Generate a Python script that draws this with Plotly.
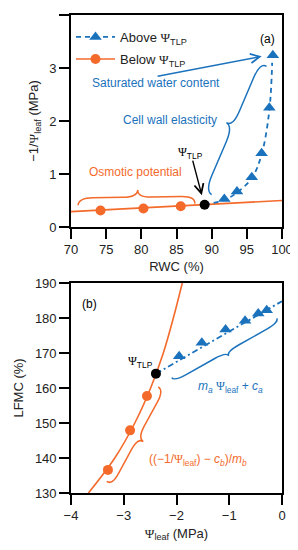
import plotly.graph_objects as go

# ---------------- data ----------------
# panel (a): -1/Psi_leaf vs RWC
rwc_below = [74.2, 80.3, 85.6]
inv_below = [0.31, 0.35, 0.39]
rwc_below_line = [70, 100]
inv_below_line = [0.29, 0.50]

rwc_above = [91.8, 93.6, 95.7, 97.1, 98.2, 98.7]
inv_above = [0.53, 0.67, 0.94, 1.39, 2.25, 3.24]
rwc_above_line = [89.0, 91.8, 93.6, 95.7, 97.1, 98.2, 98.6]
inv_above_line = [0.42, 0.51, 0.65, 0.92, 1.37, 2.20, 3.10]

rwc_tlp = [89.0]
inv_tlp = [0.42]

# panel (b): LFMC vs Psi_leaf
psi_below = [-3.30, -2.88, -2.56]
lfmc_below = [136.6, 147.9, 157.7]
psi_below_line = [-3.67, -3.17, -2.79, -2.49, -2.25, -2.06, -1.89]
lfmc_below_line = [130, 140, 150, 160, 170, 180, 190]

psi_above = [-1.95, -1.52, -1.07, -0.70, -0.45, -0.29]
lfmc_above = [169.1, 172.9, 176.7, 179.2, 181.3, 182.2]
psi_above_line = [-2.39, 0.0]
lfmc_above_line = [164.1, 184.8]

psi_tlp = [-2.39]
lfmc_tlp = [164.1]

BLUE = "#1a72bd"
ORANGE = "#f46a2b"
FONT = "Liberation Sans, Arial, sans-serif"
PSI = "<span style='font-family:Liberation Serif, DejaVu Serif, serif'>Ψ</span>"

fig = go.Figure()

# ---- panel (a) ----
fig.add_trace(go.Scatter(x=rwc_below_line, y=inv_below_line, mode="lines",
                         line=dict(color=ORANGE, width=1.6), showlegend=False,
                         xaxis="x", yaxis="y"))
fig.add_trace(go.Scatter(x=rwc_below, y=inv_below, mode="markers",
                         marker=dict(color=ORANGE, size=10, symbol="circle"),
                         showlegend=False, xaxis="x", yaxis="y"))
fig.add_trace(go.Scatter(x=rwc_above_line, y=inv_above_line, mode="lines",
                         line=dict(color=BLUE, width=1.8, dash="5px,4px", shape="spline"),
                         showlegend=False, xaxis="x", yaxis="y"))
fig.add_trace(go.Scatter(x=rwc_above, y=inv_above, mode="markers",
                         marker=dict(color=BLUE, size=11, symbol="triangle-up"),
                         showlegend=False, xaxis="x", yaxis="y"))
fig.add_trace(go.Scatter(x=rwc_tlp, y=inv_tlp, mode="markers",
                         marker=dict(color="black", size=10),
                         showlegend=False, xaxis="x", yaxis="y"))

# legend entries
fig.add_trace(go.Scatter(x=[None], y=[None], mode="lines+markers",
                         name=f"Above {PSI}<sub>TLP</sub>",
                         line=dict(color=BLUE, width=1.8, dash="5px,4px"),
                         marker=dict(color=BLUE, size=11, symbol="triangle-up"),
                         legend="legend", xaxis="x", yaxis="y"))
fig.add_trace(go.Scatter(x=[None], y=[None], mode="lines+markers",
                         name=f"Below {PSI}<sub>TLP</sub>",
                         line=dict(color=ORANGE, width=1.6),
                         marker=dict(color=ORANGE, size=10, symbol="circle"),
                         legend="legend2", xaxis="x", yaxis="y"))

# ---- panel (b) ----
fig.add_trace(go.Scatter(x=psi_below_line, y=lfmc_below_line, mode="lines",
                         line=dict(color=ORANGE, width=1.6, shape="spline"),
                         showlegend=False, xaxis="x2", yaxis="y2"))
fig.add_trace(go.Scatter(x=psi_below, y=lfmc_below, mode="markers",
                         marker=dict(color=ORANGE, size=10, symbol="circle"),
                         showlegend=False, xaxis="x2", yaxis="y2"))
fig.add_trace(go.Scatter(x=psi_above_line, y=lfmc_above_line, mode="lines",
                         line=dict(color=BLUE, width=1.8, dash="6px,3px,2px,3px"),
                         showlegend=False, xaxis="x2", yaxis="y2"))
fig.add_trace(go.Scatter(x=psi_above, y=lfmc_above, mode="markers",
                         marker=dict(color=BLUE, size=11, symbol="triangle-up"),
                         showlegend=False, xaxis="x2", yaxis="y2"))
fig.add_trace(go.Scatter(x=psi_tlp, y=lfmc_tlp, mode="markers",
                         marker=dict(color="black", size=10),
                         showlegend=False, xaxis="x2", yaxis="y2"))


def brace(a, b, t, xref, yref, color):
    """Curly brace between a and b with its tip at t (data coords)."""
    mx, my = (a[0] + b[0]) / 2, (a[1] + b[1]) / 2
    dx, dy = (t[0] - mx) / 2, (t[1] - my) / 2
    ux, uy = b[0] - a[0], b[1] - a[1]
    f = 0.12
    p = lambda x, y: f"{x},{y}"
    path = (
        f"M {p(a[0], a[1])} "
        f"Q {p(a[0] + dx, a[1] + dy)} {p(a[0] + f*ux + dx, a[1] + f*uy + dy)} "
        f"L {p(mx - f*ux + dx, my - f*uy + dy)} "
        f"Q {p(mx + dx, my + dy)} {p(t[0], t[1])} "
        f"Q {p(mx + dx, my + dy)} {p(mx + f*ux + dx, my + f*uy + dy)} "
        f"L {p(b[0] - f*ux + dx, b[1] - f*uy + dy)} "
        f"Q {p(b[0] + dx, b[1] + dy)} {p(b[0], b[1])}"
    )
    return dict(type="path", path=path, xref=xref, yref=yref,
                line=dict(color=color, width=1.5))


shapes = [
    brace((71.0, 0.41), (87.6, 0.44), (79.5, 0.70), "x", "y", ORANGE),
    brace((97.8, 3.03), (90.0, 0.61), (92.1, 1.97), "x", "y", BLUE),
    brace((-2.09, 163.0), (-0.10, 179.9), (-1.01, 169.2), "x2", "y2", BLUE),
    brace((-2.345, 160.35), (-3.323, 133.3), (-2.63, 144.7), "x2", "y2", ORANGE),
]

annotations = [
    dict(x=97.9, y=3.55, xref="x", yref="y", text="(a)", showarrow=False,
         font=dict(family=FONT, size=12, color="black")),
    dict(x=82.1, y=2.72, xref="x", yref="y", text="Saturated water content",
         showarrow=False, font=dict(family=FONT, size=12, color=BLUE)),
    dict(x=84.1, y=2.02, xref="x", yref="y", text="Cell wall elasticity",
         showarrow=False, font=dict(family=FONT, size=12, color=BLUE)),
    dict(x=79.2, y=1.03, xref="x", yref="y", text="Osmotic potential",
         showarrow=False, font=dict(family=FONT, size=12, color=ORANGE)),
    dict(x=87.06, y=1.40, xref="x", yref="y", text=f"{PSI}<sub>TLP</sub>",
         showarrow=False, font=dict(family=FONT, size=12, color="black")),
    # arrows
    dict(x=97.11, y=3.22, ax=82.1, ay=2.84, xref="x", yref="y", axref="x", ayref="y",
         text="", showarrow=True, arrowhead=5, arrowsize=1.3, arrowwidth=1.4,
         arrowcolor=BLUE),
    dict(x=88.6, y=0.6, ax=87.25, ay=1.28, xref="x", yref="y", axref="x", ayref="y",
         text="", showarrow=True, arrowhead=5, arrowsize=1.3, arrowwidth=1.4,
         arrowcolor="black"),
    # panel (b)
    dict(x=-3.64, y=183.9, xref="x2", yref="y2", text="(b)", showarrow=False,
         font=dict(family=FONT, size=12, color="black")),
    dict(x=-2.69, y=167.3, xref="x2", yref="y2", text=f"{PSI}<sub>TLP</sub>",
         showarrow=False, font=dict(family=FONT, size=12, color="black")),
    dict(x=-0.98, y=160.3, xref="x2", yref="y2",
         text=f"<i>m<sub>a</sub></i> {PSI}<sub>leaf</sub> + <i>c<sub>a</sub></i>",
         showarrow=False, font=dict(family=FONT, size=12, color=BLUE)),
    dict(x=-1.59, y=139.5, xref="x2", yref="y2",
         text=f"((−1/{PSI}<sub>leaf</sub>) − <i>c<sub>b</sub></i>)/<i>m<sub>b</sub></i>",
         showarrow=False, font=dict(family=FONT, size=12, color=ORANGE)),
]

axis_common = dict(showgrid=False, zeroline=False, ticks="outside", ticklen=10,
                   tickwidth=1.6, tickcolor="black", linecolor="black", linewidth=1.6,
                   mirror=True, showline=True, automargin=False,
                   tickfont=dict(family=FONT, size=13, color="#222"),
                   title_font=dict(family=FONT, size=13, color="#222"))

# page body has an 8px margin, so the figure is 290x542 inside a 298x550 window
fig.update_layout(
    width=290, height=542,
    margin=dict(l=63, r=16, t=7, b=57, autoexpand=False),
    paper_bgcolor="white", plot_bgcolor="white",
    font=dict(family=FONT, size=13, color="#222"),
    xaxis=dict(axis_common, domain=[0, 1], range=[70, 100], dtick=5, anchor="y",
               title=dict(text="RWC (%)", standoff=6)),
    yaxis=dict(axis_common, domain=[0.5565, 1], range=[0, 4], dtick=1, anchor="x",
               title=dict(text=f"−1/{PSI}<sub>leaf</sub> (MPa)", standoff=8)),
    xaxis2=dict(axis_common, domain=[0, 1], range=[-4, 0], dtick=1, anchor="y2",
                title=dict(text=f"{PSI}<sub>leaf</sub> (MPa)", standoff=6)),
    yaxis2=dict(axis_common, domain=[0, 0.4393], range=[130, 190], dtick=10, anchor="x2",
                title=dict(text="LFMC (%)", standoff=8)),
    legend=dict(x=0.0, y=0.954, xanchor="left", yanchor="middle",
                bgcolor="rgba(0,0,0,0)", font=dict(family=FONT, size=13, color="#222"),
                itemwidth=39),
    legend2=dict(x=0.0, y=0.908, xanchor="left", yanchor="middle",
                 bgcolor="rgba(0,0,0,0)", font=dict(family=FONT, size=13, color="#222"),
                 itemwidth=39),
    shapes=shapes,
    annotations=annotations,
)

fig.write_html("out.html")
